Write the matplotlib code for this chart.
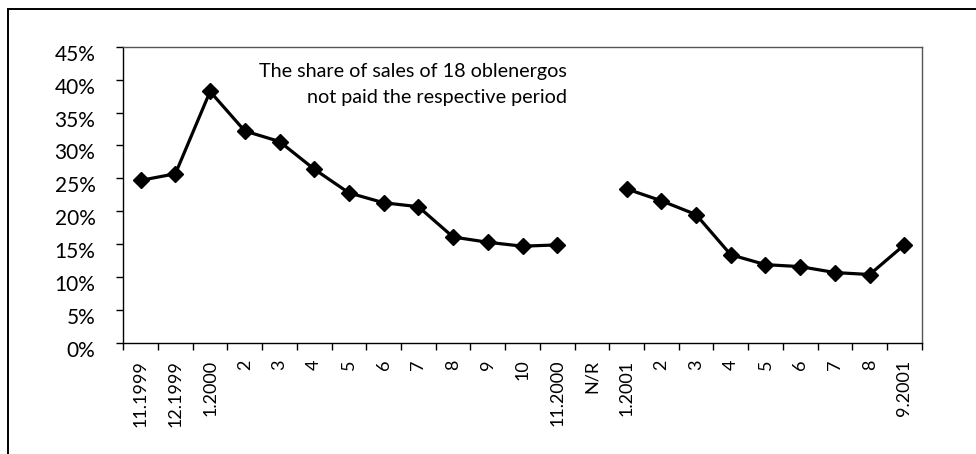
import matplotlib.pyplot as plt
import numpy as np
from matplotlib.patches import Rectangle
from matplotlib.ticker import FixedLocator, NullFormatter, PercentFormatter
from matplotlib.transforms import ScaledTranslation

plt.rcParams['font.family'] = ['Lato', 'DejaVu Sans']

categories = ['11.1999', '12.1999', '1.2000', '2', '3', '4', '5', '6', '7', '8', '9',
              '10', '11.2000', 'N/R', '1.2001', '2', '3', '4', '5', '6', '7', '8', '9.2001']
share_unpaid = [24.7, 25.7, 38.2, 32.2, 30.6, 26.4, 22.8, 21.3, 20.7, 16.1, 15.3,
                14.7, 14.9, np.nan, 23.4, 21.6, 19.5, 13.4, 11.9, 11.6, 10.7, 10.4, 14.9]

W, H = 976, 454
fig = plt.figure(figsize=(W / 100, H / 100), dpi=100)
ax = fig.add_axes([123.3 / W, 1 - 343 / H, (921.7 - 123.3) / W, (343 - 46.7) / H])

# outer frame of the original exhibit
fig.patches.append(Rectangle((7.5 / W, -0.1), 1.2, 1 - 9.5 / H + 0.1,
                             transform=fig.transFigure, fill=False,
                             edgecolor='black', linewidth=1.4))

x = np.arange(len(categories))
ax.plot(x, share_unpaid, color='black', linewidth=2.3, marker='D',
        markersize=8.5, markerfacecolor='black', markeredgecolor='black', zorder=3)

ax.set_xlim(-0.5, len(categories) - 0.5)
ax.set_ylim(0, 45)
ax.yaxis.set_major_locator(FixedLocator(np.arange(0, 46, 5)))
ax.yaxis.set_major_formatter(PercentFormatter(decimals=0))

ax.xaxis.set_major_locator(FixedLocator(np.arange(-0.5, len(categories), 1)))
ax.xaxis.set_major_formatter(NullFormatter())
ax.xaxis.set_minor_locator(FixedLocator(x))
ax.set_xticklabels(categories, minor=True, rotation=90, fontsize=13)
ax.tick_params(axis='x', which='major', direction='out', length=5, width=1, color='black')
ax.tick_params(axis='x', which='minor', length=0, pad=12)
ax.tick_params(axis='y', direction='out', length=5, width=1, labelsize=15, pad=15)

# labels sit a little below their ticks in the original
shift = ScaledTranslation(0, -4.3 / 72, fig.dpi_scale_trans)
for lab in ax.get_yticklabels():
    lab.set_transform(lab.get_transform() + shift)

for side in ['top', 'right']:
    ax.spines[side].set_color('#555555')
    ax.spines[side].set_linewidth(1)
for side in ['left', 'bottom']:
    ax.spines[side].set_color('black')
    ax.spines[side].set_linewidth(1)

ax.text(567 / W, 1 - 84.5 / H, 'The share of sales of 18 oblenergos\nnot paid the respective period',
        transform=fig.transFigure, ha='right', va='center', fontsize=14.2,
        linespacing=1.6)

fig.savefig('out.png', dpi=100)
